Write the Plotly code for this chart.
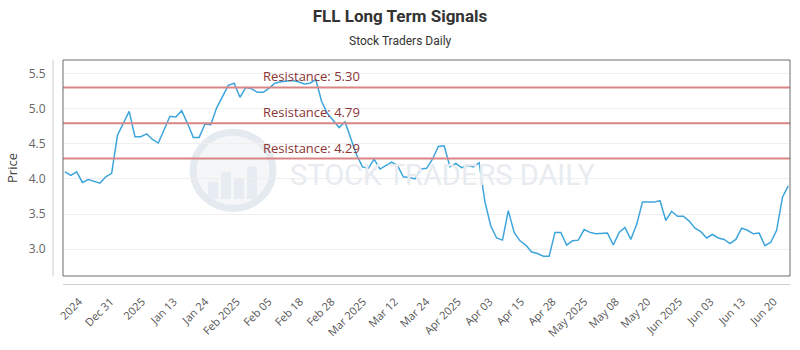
import numpy as np
import plotly.graph_objects as go

# ---- data ----
PRICES = [4.10, 4.05, 4.10, 3.95, 3.99, 3.97, 3.94, 4.03, 4.08, 4.62,
          4.80, 4.96, 4.60, 4.60, 4.64, 4.56, 4.51, 4.70, 4.89, 4.88,
          4.97, 4.79, 4.59, 4.59, 4.78, 4.77, 5.01, 5.17, 5.33, 5.36,
          5.16, 5.30, 5.28, 5.23, 5.23, 5.29, 5.36, 5.38, 5.39, 5.40,
          5.38, 5.35, 5.36, 5.41, 5.10, 4.93, 4.83, 4.73, 4.81, 4.56,
          4.34, 4.17, 4.15, 4.28, 4.14, 4.19, 4.24, 4.19, 4.03, 4.02,
          4.00, 4.14, 4.15, 4.28, 4.46, 4.47, 4.17, 4.22, 4.16, 4.19,
          4.17, 4.23, 3.67, 3.33, 3.16, 3.13, 3.55, 3.24, 3.12, 3.06,
          2.96, 2.94, 2.90, 2.90, 3.24, 3.24, 3.06, 3.12, 3.13, 3.28,
          3.24, 3.22, 3.23, 3.23, 3.06, 3.24, 3.31, 3.14, 3.35, 3.67,
          3.67, 3.67, 3.69, 3.41, 3.54, 3.47, 3.47, 3.40, 3.30, 3.25,
          3.16, 3.21, 3.16, 3.14, 3.08, 3.14, 3.30, 3.27, 3.22, 3.23,
          3.05, 3.10, 3.27, 3.74, 3.90]
INDEX = list(range(len(PRICES)))

RESISTANCE_LEVELS = [5.30, 4.79, 4.29]

TICK_LABELS = ["2024", "Dec 31", "2025", "Jan 13", "Jan 24", "Feb 2025", "Feb 05",
               "Feb 18", "Feb 28", "Mar 2025", "Mar 12", "Mar 24", "Apr 2025",
               "Apr 03", "Apr 15", "Apr 28", "May 2025", "May 08", "May 20",
               "Jun 2025", "Jun 03", "Jun 13", "Jun 20"]
TICK_POS = list(np.linspace(2.4, 121.5, len(TICK_LABELS)))

TITLE = "FLL Long Term Signals"
SUBTITLE = "Stock Traders Daily"

# ---- figure ----
W, H = 800, 350
ML, MR, MT, MB = 63, 10, 60, 63
PW, PH = W - ML - MR, H - MT - MB

fig = go.Figure()
fig.add_trace(go.Scatter(x=INDEX, y=PRICES, mode="lines",
                         line=dict(color="#3ea5dc", width=1.5),
                         hoverinfo="skip", showlegend=False))

shapes = []
annotations = []

# watermark logo
cx, cy, r = (233 - ML) / PW, 1 - (176 - MT) / PH, 40
shapes.append(dict(type="circle", xref="paper", yref="paper", layer="below",
                   x0=cx - r / PW, x1=cx + r / PW, y0=cy - r / PH, y1=cy + r / PH,
                   line=dict(color="#e4eaf0", width=7), fillcolor="#f4f6f8"))
for bx, bh in [(-20, 18), (-7, 28), (6, 22), (19, 34)]:
    shapes.append(dict(type="rect", xref="paper", yref="paper", layer="below",
                       x0=cx + (bx - 5) / PW, x1=cx + (bx + 5) / PW,
                       y0=cy - 30 / PH, y1=cy + (bh - 30) / PH,
                       line=dict(width=0), fillcolor="#e6ecf1"))
annotations.append(dict(text="STOCK TRADERS DAILY", xref="paper", yref="paper",
                        x=(288 - ML) / PW, y=1 - (181 - MT) / PH, xanchor="left",
                        yanchor="middle", showarrow=False,
                        font=dict(family="Roboto, sans-serif", size=29, color="#e8ecf0")))

for lvl in RESISTANCE_LEVELS:
    shapes.append(dict(type="line", xref="paper", yref="y", x0=0, x1=1, y0=lvl, y1=lvl,
                       line=dict(color="#d98585", width=2)))
    annotations.append(dict(text=f"Resistance: {lvl:.2f}", xref="paper", yref="y",
                            x=(261 - ML) / PW, y=lvl, xanchor="left", yanchor="bottom",
                            yshift=0, showarrow=False,
                            font=dict(family="Open Sans, sans-serif", size=13, color="#8b3535")))

# frame and offset axis lines
shapes.append(dict(type="rect", xref="paper", yref="paper", x0=0, x1=1, y0=0, y1=1,
                   line=dict(color="#6a6a6a", width=1)))
shapes.append(dict(type="line", xref="paper", yref="paper", x0=-10 / PW, x1=-10 / PW,
                   y0=0, y1=1, line=dict(color="#cccccc", width=1)))
shapes.append(dict(type="line", xref="paper", yref="paper", x0=0, x1=1,
                   y0=-9 / PH, y1=-9 / PH, line=dict(color="#cccccc", width=1)))

annotations.append(dict(text=SUBTITLE, xref="paper", yref="paper",
                        x=(400 - ML) / PW, y=1 + 20 / PH, xanchor="center", yanchor="middle",
                        showarrow=False,
                        font=dict(family="Roboto, sans-serif", size=12, color="#333333")))

fig.update_layout(
    width=W, height=H,
    margin=dict(l=ML, r=MR, t=MT, b=MB),
    paper_bgcolor="white", plot_bgcolor="white",
    title=dict(text=f"<b>{TITLE}</b>", x=0.5, xref="container", xanchor="center",
               y=1 - 16 / H, yanchor="middle",
               font=dict(family="Roboto, sans-serif", size=17, color="#333333")),
    shapes=shapes, annotations=annotations,
    xaxis=dict(range=[-0.34, 124.29], showgrid=False, zeroline=False, showline=False,
               tickmode="array", tickvals=TICK_POS, ticktext=TICK_LABELS,
               tickangle=-45, ticks="outside", ticklen=14, tickcolor="rgba(0,0,0,0)",
               tickfont=dict(family="Open Sans, sans-serif", size=11, color="#555555")),
    yaxis=dict(range=[2.62, 5.69], showgrid=True, gridcolor="#efefef", gridwidth=1,
               zeroline=False, showline=False, tickvals=[3.0, 3.5, 4.0, 4.5, 5.0, 5.5],
               ticktext=["3.0", "3.5", "4.0", "4.5", "5.0", "5.5"],
               ticks="outside", ticklen=14, tickcolor="rgba(0,0,0,0)",
               tickfont=dict(family="Open Sans, sans-serif", size=12, color="#666666"),
               title=dict(text="Price", standoff=8,
                          font=dict(family="Open Sans, sans-serif", size=13, color="#444444"))),
)

fig.write_html("out.html")
